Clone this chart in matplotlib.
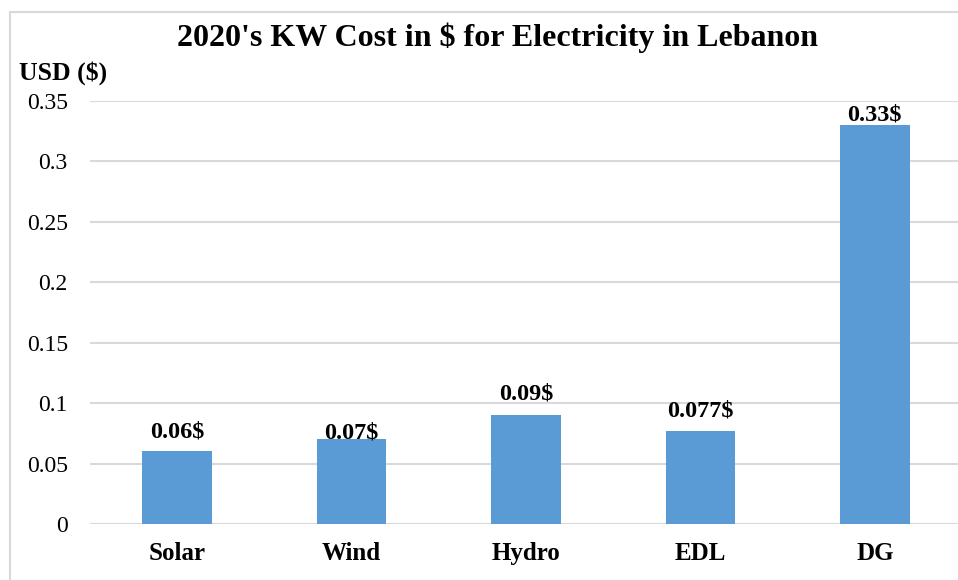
import matplotlib
matplotlib.use('Agg')
import matplotlib.pyplot as plt
from matplotlib.patches import Rectangle

plt.rcParams['font.family'] = ['Liberation Serif', 'DejaVu Serif']

# dados
categories = ['Solar', 'Wind', 'Hydro', 'EDL', 'DG']
costs = [0.06, 0.07, 0.09, 0.077, 0.33]
value_labels = ['0.06$', '0.07$', '0.09$', '0.077$', '0.33$']
label_offsets = [14, 4.5, 15, 14, 7]  # deslocamento dos rótulos em pontos
yticks = [0, 0.05, 0.1, 0.15, 0.2, 0.25, 0.3, 0.35]
ytick_labels = ['0', '0.05', '0.1', '0.15', '0.2', '0.25', '0.3', '0.35']

W, H = 958, 580
fig = plt.figure(figsize=(W / 100, H / 100), dpi=100)

# moldura do gráfico
fig.patches.append(Rectangle((10 / W, -0.1), 2, (H - 12) / H + 0.1,
                             transform=fig.transFigure, fill=False,
                             edgecolor='#D9D9D9', linewidth=1.5))

ax = fig.add_axes([90 / W, (H - 524) / H, (958 - 90) / W, (524 - 101) / H])
x = range(len(categories))
ax.bar(x, costs, width=0.4, color='#5B9BD5', zorder=3)
for i, (c, lab, off) in enumerate(zip(costs, value_labels, label_offsets)):
    ax.annotate(lab, (i, c), xytext=(0, off), textcoords='offset points',
                ha='center', va='center', fontsize=17.5, fontweight='bold')

ax.set_xlim(-0.5, 4.5 - 4 / 174.5)
ax.set_ylim(0, 0.35)
ax.set_yticks(yticks)
ax.set_yticklabels(ytick_labels, fontsize=17)
ax.set_xticks(list(x))
ax.set_xticklabels(categories, fontsize=18, fontweight='bold')
ax.tick_params(axis='y', length=0, pad=16)
ax.tick_params(axis='x', length=0, pad=13)
ax.grid(axis='y', color='#D9D9D9', linewidth=1.5, zorder=0)
for s in ax.spines.values():
    s.set_visible(False)

fig.text(498 / W, 1 - 38 / H, "2020's KW Cost in $ for Electricity in Lebanon",
         ha='center', va='center', fontsize=23, fontweight='bold')
fig.text(19 / W, 1 - 73 / H, 'USD ($)', ha='left', va='center',
         fontsize=18.5, fontweight='bold')

fig.savefig('out.png', dpi=100)
